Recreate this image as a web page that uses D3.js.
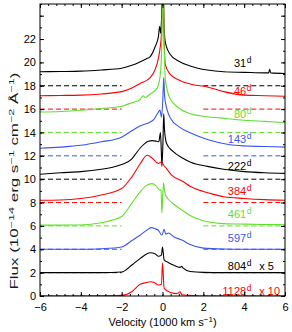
<!DOCTYPE html>
<html lang="en">
<head>
<meta charset="UTF-8" />
<script src="https://d3js.org/d3.v7.min.js"></script>
<style>
  body { margin: 0; background: #fff; }
  svg { display: block; font-family: 'Liberation Sans', Arial, Helvetica, sans-serif; }
</style>
</head>
<body>
<svg width="292" height="332"></svg>
<script>
// epochs (days), plotted top to bottom
const epochs = ["31", "46", "80", "143", "222", "384", "461", "597", "804", "1128"];
const scaleNotes = ["", "", "", "", "", "", "", "", "x 5", "x 10"];
const offsets = [18, 16, 14, 12, 10, 8, 6, 4, 2, 0];
const labelFlux = [19.6, 17.2, 15.2, 13.1, 10.8, 8.65, 6.65, 4.65, 2.23, 0.05];
const colors = ["#000000", "#ff0000", "#5fe02a", "#3a55f0", "#000000",
                "#ff0000", "#5fe02a", "#3a55f0", "#000000", "#ff0000"];

// [velocity (1000 km/s), flux + offset]
const spec31 = [[-6,19.2],[-5,19.22],[-4,19.25],[-3,19.35],[-2,19.5],[-1.5,19.75],[-1.1,20.05],[-0.8,20.3],[-0.6,20.5],[-0.37,21.3],[-0.2,22.2],[-0.14,23.1],[-0.09,22.5],[-0.04,24],[0.02,27],[0.08,23],[0.13,21.8],[0.37,20.7],[0.8,20.1],[1.35,19.7],[2.2,19.35],[3,19.2],[4,19.15],[5,19.1],[5.2,19.1],[5.25,19.4],[5.3,19.1],[6,19.05]];
const spec46 = [[-6,17.15],[-5,17.17],[-4,17.2],[-3,17.3],[-2,17.5],[-1.5,17.8],[-1.1,18.2],[-0.6,18.7],[-0.37,19.35],[-0.2,20.35],[-0.12,21.2],[-0.05,22.5],[0.02,27],[0.08,22],[0.13,19.85],[0.37,19.0],[0.8,18.5],[1.35,18.15],[2.2,17.9],[3,17.5],[4,17.2],[5,17.15],[6,17.1]];
const spec80 = [[-6,15.75],[-5,15.8],[-4,15.9],[-3,16.05],[-2,16.25],[-1.5,16.55],[-1.1,16.8],[-0.95,17.15],[-0.85,17.0],[-0.6,17.3],[-0.26,17.8],[-0.12,18.8],[-0.05,20.5],[0.03,27],[0.09,21],[0.14,18.5],[0.37,16.9],[0.8,16.1],[1.38,15.6],[2.2,15.35],[2.8,15.25],[4,15.05],[5,14.95],[6,14.85]];
const spec143 = [[-6,12.65],[-5,12.75],[-4,12.9],[-3,13.2],[-2,13.6],[-1.5,14.15],[-1.1,14.55],[-0.6,14.9],[-0.43,15.1],[-0.2,15.75],[-0.12,15.9],[-0.05,15.3],[0.02,17],[0.06,18.7],[0.1,17.2],[0.14,16.6],[0.4,15.2],[0.8,14.5],[1.38,13.95],[2.2,13.4],[3.3,12.95],[4,12.85],[5,12.8],[6,12.75]];
const spec222 = [[-6,10.43],[-5,10.55],[-4,10.65],[-3,10.85],[-2.5,11.0],[-2,11.25],[-1.5,11.75],[-1.3,12.2],[-1.1,12.65],[-0.9,13.0],[-0.7,13.25],[-0.5,13.3],[-0.3,13.25],[-0.18,13.2],[-0.1,14.0],[-0.06,12.5],[-0.03,11.1],[0.02,13],[0.06,15.6],[0.1,14.2],[0.2,13.05],[0.5,12.4],[1.0,11.8],[1.38,11.45],[2.2,11.1],[3,10.85],[4,10.65],[5,10.55],[6,10.5]];
const spec384 = [[-6,8.2],[-5,8.22],[-4,8.35],[-3,8.65],[-2,9.2],[-1.5,10.2],[-1.1,11.3],[-0.75,12.05],[-0.5,11.8],[-0.2,11.35],[-0.05,11.5],[0.02,11.3],[0.2,10.9],[0.45,10.35],[1.0,9.8],[1.35,9.4],[2,8.95],[2.5,8.7],[3,8.5],[4,8.35],[5,8.25],[6,8.2]];
const spec461 = [[-6,6.07],[-5,6.07],[-4,6.08],[-3,6.27],[-2,6.8],[-1.5,7.95],[-1.1,8.9],[-0.8,9.45],[-0.5,9.62],[-0.3,9.4],[-0.12,9.05],[-0.07,9.1],[-0.03,7.1],[0.01,8.5],[0.05,9.7],[0.1,9.0],[0.16,8.6],[0.53,7.9],[1.0,7.3],[1.35,6.9],[2,6.45],[3,6.2],[4,6.15],[5,6.12],[6,6.1]];
const spec597 = [[-6,4.0],[-5,4.0],[-4,4.0],[-3,4.05],[-2,4.2],[-1.5,4.75],[-1.1,5.2],[-0.8,5.6],[-0.55,5.85],[-0.35,5.75],[-0.2,5.63],[-0.03,5.2],[0.08,5.7],[0.16,5.3],[0.3,5.4],[0.53,5.1],[1.0,4.75],[1.35,4.4],[2,4.1],[3,4.02],[4,4.0],[6,4.0]];
const spec804 = [[-6,2.0],[-4,2.0],[-3,2.0],[-2,2.05],[-1.5,2.65],[-1.1,3.2],[-0.6,3.7],[-0.35,3.6],[-0.2,3.4],[-0.05,3.5],[0.0,4.2],[0.08,3.1],[0.3,2.85],[0.53,2.65],[0.86,2.45],[0.94,2.55],[1.0,2.4],[1.35,2.1],[2,2.02],[3,2.0],[6,2.0]];
const spec1128 = [[-6,0.0],[-4,0.0],[-3,0.02],[-2,0.05],[-1.5,0.37],[-1.1,1.0],[-0.8,1.15],[-0.6,1.22],[-0.4,1.15],[-0.2,0.94],[-0.05,1.0],[0.0,2.85],[0.08,0.66],[0.4,0.3],[0.7,0.2],[0.86,0.37],[0.95,0.1],[1.3,0.05],[2,0.0],[6,0.0]];
const spectra = [spec31, spec46, spec80, spec143, spec222, spec384, spec461, spec597, spec804, spec1128];

const xTicks = [-6, -4, -2, 0, 2, 4, 6];
const yTicks = [0, 2, 4, 6, 8, 10, 12, 14, 16, 18, 20, 22, 24];
const yTickLabels = ["0", "2", "4", "6", "8", "10", "12", "14", "16", "18", "20", "22", ""];
const continuumRanges = [[-6, -2], [2, 6]];
const labelVel = 4.1;

const m = { left: 40, right: 285, top: 4, bottom: 296 };

const svg = d3.select("svg");
const x = d3.scaleLinear().domain([-6, 6]).range([m.left, m.right]);
const y = d3.scaleLinear().domain([0, 25]).range([m.bottom, m.top]);

svg.append("defs").append("clipPath").attr("id", "plot")
  .append("rect").attr("x", m.left).attr("y", m.top)
  .attr("width", m.right - m.left).attr("height", m.bottom - m.top);

const plot = svg.append("g").attr("clip-path", "url(#plot)");

// dashed continuum levels
offsets.forEach((off, i) => {
  continuumRanges.forEach(r => {
    plot.append("line")
      .attr("x1", x(r[0])).attr("x2", x(r[1]))
      .attr("y1", y(off)).attr("y2", y(off))
      .attr("stroke", colors[i])
      .attr("stroke-width", 1)
      .attr("stroke-dasharray", "5,3");
  });
});

const line = d3.line()
  .x(d => x(d[0])).y(d => y(d[1]))
  .curve(d3.curveMonotoneX);

spectra.forEach((s, i) => {
  plot.append("path")
    .attr("d", line(s))
    .attr("fill", "none")
    .attr("stroke", colors[i])
    .attr("stroke-width", 1.1)
    .attr("stroke-linejoin", "round");
});

// epoch labels
epochs.forEach((e, i) => {
  const lx = x(labelVel), ly = y(labelFlux[i]);
  const g = svg.append("g").attr("fill", colors[i]);
  g.append("text").attr("x", lx).attr("y", ly)
    .attr("text-anchor", "end").attr("font-size", 11).text(e);
  g.append("text").attr("x", lx + 0.5).attr("y", ly - 4)
    .attr("font-size", 8.5).text("d");
  if (scaleNotes[i]) {
    g.append("text").attr("x", lx + 13).attr("y", ly)
      .attr("font-size", 11).text(scaleNotes[i]);
  }
});

// axes: ticks point inward on all four sides
const minorX = d3.range(-6, 6.001, 0.4).map(v => +v.toFixed(2));
const minorY = d3.range(0, 25.001, 1);

svg.append("g")
  .attr("transform", `translate(0,${m.bottom})`)
  .call(d3.axisBottom(x).tickValues(xTicks).tickSize(-4).tickPadding(7))
  .call(g => g.select(".domain").remove());
svg.append("g")
  .attr("transform", `translate(0,${m.top})`)
  .call(d3.axisTop(x).tickValues(xTicks).tickSize(-4).tickFormat(""))
  .call(g => g.select(".domain").remove());
svg.append("g")
  .attr("transform", `translate(${m.left},0)`)
  .call(d3.axisLeft(y).tickValues(yTicks).tickSize(-4).tickPadding(4)
    .tickFormat((d, i) => yTickLabels[i]))
  .call(g => g.select(".domain").remove());
svg.append("g")
  .attr("transform", `translate(${m.right},0)`)
  .call(d3.axisRight(y).tickValues(yTicks).tickSize(-4).tickFormat(""))
  .call(g => g.select(".domain").remove());

// minor ticks
svg.append("g").attr("transform", `translate(0,${m.bottom})`)
  .call(d3.axisBottom(x).tickValues(minorX).tickSize(-2).tickFormat(""))
  .call(g => g.select(".domain").remove());
svg.append("g").attr("transform", `translate(0,${m.top})`)
  .call(d3.axisTop(x).tickValues(minorX).tickSize(-2).tickFormat(""))
  .call(g => g.select(".domain").remove());
svg.append("g").attr("transform", `translate(${m.left},0)`)
  .call(d3.axisLeft(y).tickValues(minorY).tickSize(-2).tickFormat(""))
  .call(g => g.select(".domain").remove());
svg.append("g").attr("transform", `translate(${m.right},0)`)
  .call(d3.axisRight(y).tickValues(minorY).tickSize(-2).tickFormat(""))
  .call(g => g.select(".domain").remove());

svg.selectAll(".tick text").attr("font-size", 11).attr("fill", "#000")
  .attr("font-family", "'Liberation Sans', Arial, Helvetica, sans-serif");

svg.append("rect")
  .attr("x", m.left).attr("y", m.top)
  .attr("width", m.right - m.left).attr("height", m.bottom - m.top)
  .attr("fill", "none").attr("stroke", "#000").attr("stroke-width", 1);

// axis titles
const xt = svg.append("text")
  .attr("x", (m.left + m.right) / 2).attr("y", 326)
  .attr("text-anchor", "middle").attr("font-size", 11);
xt.append("tspan").text("Velocity (1000 km s");
xt.append("tspan").attr("dy", -4).attr("font-size", 8).text("−1");
xt.append("tspan").attr("dy", 4).text(")");

const yt = svg.append("text")
  .attr("text-anchor", "middle").attr("font-size", 10).attr("fill", "#1a1a1a");
yt.append("tspan").text("Flux (10");
yt.append("tspan").attr("dy", -4).attr("font-size", 7.5).text("−14");
yt.append("tspan").attr("dy", 4).text(" erg s");
yt.append("tspan").attr("dy", -4).attr("font-size", 7.5).text("−1");
yt.append("tspan").attr("dy", 4).text(" cm");
yt.append("tspan").attr("dy", -4).attr("font-size", 7.5).text("−2");
yt.append("tspan").attr("dy", 4).text(" Å");
yt.append("tspan").attr("dy", -4).attr("font-size", 7.5).text("−1");
yt.append("tspan").attr("dy", 4).text(")");
const natural = yt.node().getComputedTextLength();
yt.attr("transform", `translate(18,181) rotate(-90) scale(${217 / natural},1)`);
</script>
</body>
</html>
